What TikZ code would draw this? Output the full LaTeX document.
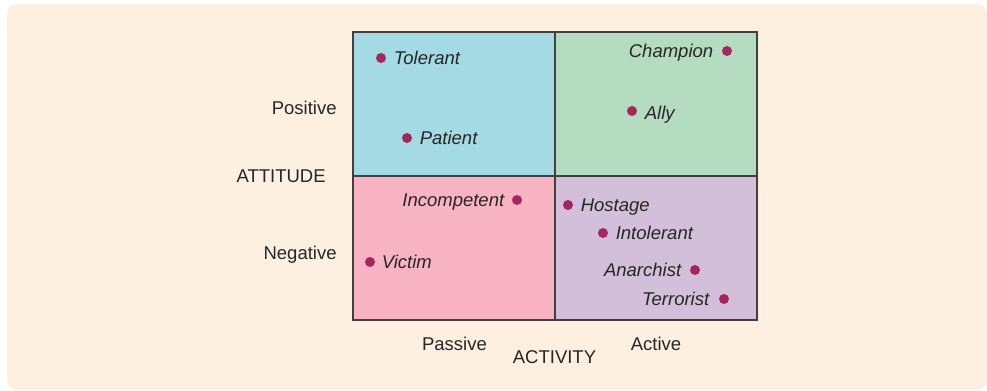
\documentclass[tikz,border=0pt]{standalone}
\usepackage{fontspec}
\setmainfont{Liberation Sans}
\usepackage{tikz}
\definecolor{colorBG}{RGB}{253,240,225}
\definecolor{colorTL}{RGB}{163,218,228}
\definecolor{colorTR}{RGB}{180,220,193}
\definecolor{colorBL}{RGB}{248,180,194}
\definecolor{colorBR}{RGB}{212,191,218}
\definecolor{colorDot}{RGB}{166,38,92}
\colorlet{colorLine}{black!75}
\colorlet{colorText}{black!85}
\usetikzlibrary{positioning}
\newcommand{\lblfont}{\fontsize{9.25}{11}\selectfont}
\tikzset{
   every node/.style={font=\lblfont,text=colorText},
   quad/.style={draw=colorLine,line width=0.65pt},
   pt/.style={circle,fill=colorDot,minimum size=5pt,inner sep=0pt},
   role/.style={font=\lblfont\itshape,inner sep=0pt,text height=6.6pt,text depth=0pt},
   axis/.style={inner sep=0pt},
}

\begin{document}
\begin{tikzpicture}[x=0.5pt,y=-0.5pt]

        \useasboundingbox (0,0) rectangle (987,391);
        \fill[colorBG,rounded corners=5pt] (7,4) rectangle (987,390);

        \fill[colorTL] (353, 32) rectangle (555,176);
        \fill[colorTR] (555, 32) rectangle (757,176);
        \fill[colorBL] (353,176) rectangle (555,320);
        \fill[colorBR] (555,176) rectangle (757,320);
        \draw[quad] (353,32) rectangle (757,320);
        \draw[quad] (555,32) -- (555,320);
        \draw[quad] (353,176) -- (757,176);

        \node[pt] (p11) at (381, 58) {};
        \node[pt] (p12) at (407,138) {};
        \node[role,right=3.5pt of p11] (l11) {Tolerant};
        \node[role,right=3.5pt of p12] (l12) {Patient};

        \node[pt] (p21) at (727, 51) {};
        \node[pt] (p22) at (632,111) {};
        \node[role,left=4pt of p21] (l21) {Champion};
        \node[role,right=3.5pt of p22,yshift=-1pt] (l22) {Ally};

        \node[pt] (n11) at (517,200) {};
        \node[pt] (n12) at (370,262) {};
        \node[role,left=3.5pt of n11] (m11) {Incompetent};
        \node[role,right=3pt of n12] (m12) {Victim};

        \node[pt] (n21) at (568,205) {};
        \node[pt] (n22) at (603,233) {};
        \node[pt] (n23) at (695,270) {};
        \node[pt] (n24) at (724,299) {};
        \node[role,right=3.5pt of n21] (m21) {Hostage};
        \node[role,right=3.5pt of n22] (m22) {Intolerant};
        \node[role,left=4pt of n23] (m23) {Anarchist};
        \node[role,left=4.5pt of n24] (m24) {Terrorist};

        \node[axis,anchor=base east] (pos) at (337,114) {Positive};
        \node[axis,anchor=base east] (att) at (326,182.6) {ATTITUDE};
        \node[axis,anchor=base east] (neg) at (337,259.3) {Negative};

        \node[axis,anchor=base] (pas) at (454.5,350.6) {Passive};
        \node[axis,anchor=base] (act) at (656,350) {Active};
        \node[axis,anchor=base] (acy) at (554.5,363.3) {ACTIVITY};

      \end{tikzpicture}
\end{document}
